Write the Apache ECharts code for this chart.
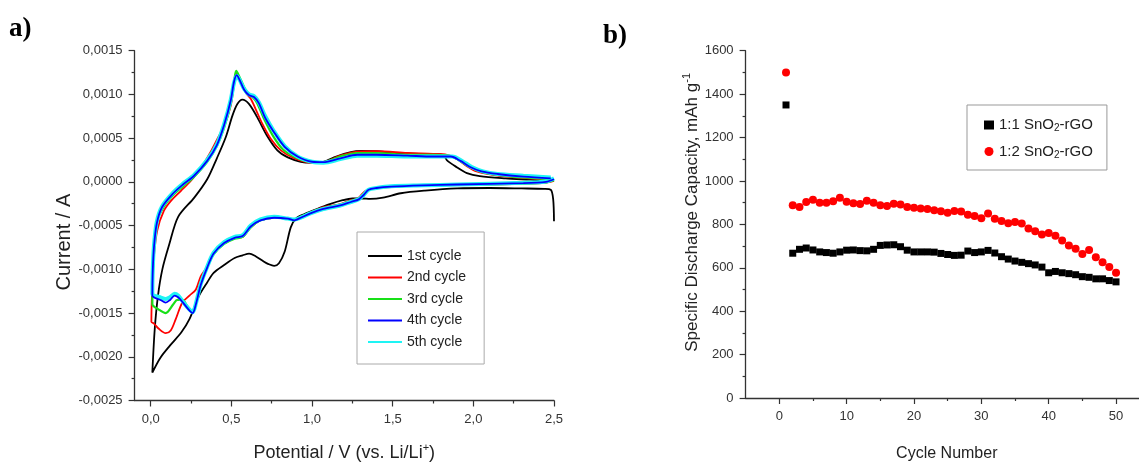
<!DOCTYPE html>
<html><head><meta charset="utf-8">
<script src="https://cdn.jsdelivr.net/npm/echarts@6/dist/echarts.min.js"></script>
<style>html,body{margin:0;padding:0;background:#fff}#c{width:1139px;height:467px}</style>
</head><body><div id="c"></div>
<script>
// ---------- Panel a: cyclic voltammetry (Potential V, Current A) ----------
const cvNames = ['1st cycle', '2nd cycle', '3rd cycle', '4th cycle', '5th cycle'];
const cvColors = ['#000000', '#ff0000', '#18e018', '#0000ff', '#1ef4f4'];

const cycle1 = [
  [2.50, -0.00045], [2.495, -0.00020], [2.48, -0.00009], [2.44, -0.00008], [2.30, -0.000075], [2.10, -0.00007],
  [1.90, -0.000075], [1.70, -0.00010], [1.55, -0.00013], [1.44, -0.00018], [1.36, -0.000195], [1.31, -0.00019],
  [1.25, -0.00019], [1.19, -0.00021], [1.11, -0.000255], [1.03, -0.00031], [0.95, -0.00037], [0.90, -0.00042],
  [0.868, -0.00052], [0.83, -0.00080], [0.795, -0.00093], [0.765, -0.00096], [0.73, -0.00094], [0.70, -0.00091],
  [0.65, -0.00085], [0.61, -0.00082], [0.57, -0.00084], [0.52, -0.00087], [0.455, -0.00095], [0.39, -0.00104],
  [0.35, -0.00115], [0.30, -0.00130], [0.24, -0.00157], [0.19, -0.00172], [0.12, -0.00187], [0.06, -0.00201],
  [0.01, -0.00218],
  [0.025, -0.00168], [0.045, -0.00130], [0.072, -0.00100], [0.114, -0.00072], [0.17, -0.00040], [0.27, -0.00018],
  [0.35, 0.00003], [0.41, 0.00027], [0.465, 0.00051], [0.507, 0.00076], [0.537, 0.00089], [0.568, 0.00094],
  [0.61, 0.00089], [0.66, 0.00074], [0.72, 0.00053], [0.785, 0.00036], [0.85, 0.00028], [0.93, 0.00023],
  [1.00, 0.00022], [1.07, 0.00023], [1.15, 0.00029], [1.24, 0.00034], [1.30, 0.000355], [1.40, 0.00035],
  [1.52, 0.00033], [1.69, 0.00032], [1.81, 0.00031], [1.84, 0.00024], [1.90, 0.000165], [1.96, 0.00010],
  [2.04, 0.000065], [2.20, 0.00004], [2.35, 0.000025], [2.49, 0.00001]
];
const cycle2 = [
  [2.50, 0.00001], [2.45, -0.00001], [2.31, -0.000022], [1.90, -0.000037], [1.69, -0.00004], [1.49, -0.00006],
  [1.38, -0.000075], [1.33, -0.000105], [1.30, -0.00016], [1.28, -0.000195], [1.236, -0.00021], [1.175, -0.000255],
  [1.07, -0.00029], [0.99, -0.00035], [0.93, -0.00040], [0.89, -0.00044], [0.85, -0.00042], [0.765, -0.00041],
  [0.68, -0.00044], [0.62, -0.00052], [0.57, -0.00063], [0.52, -0.00064], [0.455, -0.00070], [0.39, -0.00082],
  [0.35, -0.00097], [0.31, -0.00108], [0.28, -0.00123], [0.24, -0.00130], [0.196, -0.00138], [0.155, -0.00157],
  [0.124, -0.00170], [0.093, -0.00173], [0.05, -0.00168], [0.02, -0.00162], [0.004, -0.00160],
  [0.009, -0.00123], [0.02, -0.00085], [0.041, -0.00055], [0.082, -0.00033], [0.124, -0.00022], [0.186, -0.000105],
  [0.248, 0.00001], [0.31, 0.000157], [0.372, 0.000345], [0.413, 0.00049], [0.455, 0.00064], [0.496, 0.00087],
  [0.517, 0.00111], [0.533, 0.00124], [0.554, 0.00117], [0.589, 0.00102], [0.62, 0.00095], [0.651, 0.00083],
  [0.693, 0.00066], [0.745, 0.00049], [0.807, 0.00036], [0.889, 0.00027], [0.99, 0.00022], [1.07, 0.000225],
  [1.175, 0.00030], [1.28, 0.000345], [1.40, 0.00035], [1.59, 0.00033], [1.75, 0.00032], [1.836, 0.00031],
  [1.90, 0.00026], [1.96, 0.00018], [2.02, 0.00012], [2.15, 0.000071], [2.31, 0.000045], [2.48, 0.000018]
];
const cycle3 = [
  [2.50, 0.00002], [2.45, -0.000005], [2.31, -0.00002], [1.90, -0.000035], [1.69, -0.00004], [1.49, -0.000055],
  [1.40, -0.00007], [1.35, -0.00009], [1.32, -0.00014], [1.29, -0.00019], [1.24, -0.00022], [1.175, -0.00026],
  [1.07, -0.00030], [0.99, -0.00035], [0.93, -0.00040], [0.89, -0.00044], [0.85, -0.00042], [0.765, -0.00041],
  [0.68, -0.00044], [0.62, -0.00052], [0.57, -0.00063], [0.52, -0.00065], [0.455, -0.00071], [0.39, -0.00083],
  [0.35, -0.00098], [0.31, -0.00116], [0.28, -0.00138], [0.258, -0.00149], [0.23, -0.00143], [0.196, -0.00135],
  [0.165, -0.00135], [0.14, -0.00140], [0.093, -0.00150], [0.05, -0.00146], [0.01, -0.00140],
  [0.013, -0.00110], [0.02, -0.00075], [0.04, -0.00045], [0.082, -0.00028], [0.145, -0.00014], [0.20, -0.00005],
  [0.269, 0.00006], [0.35, 0.00023], [0.41, 0.00041], [0.455, 0.00062], [0.496, 0.00090], [0.517, 0.00115],
  [0.53, 0.00127], [0.55, 0.00120], [0.58, 0.00108], [0.61, 0.00099], [0.63, 0.00097], [0.66, 0.00090],
  [0.70, 0.00073], [0.76, 0.00052], [0.82, 0.00037], [0.90, 0.00028], [0.99, 0.00023], [1.07, 0.000225],
  [1.175, 0.00029], [1.28, 0.00033], [1.40, 0.00033], [1.59, 0.00031], [1.75, 0.00031], [1.85, 0.00030],
  [1.91, 0.00025], [1.97, 0.00018], [2.04, 0.00012], [2.15, 0.00008], [2.31, 0.00005], [2.48, 0.00003]
];
const cycle4 = [
  [2.50, 0.00003], [2.45, 0.0], [2.31, -0.000015], [1.90, -0.00003], [1.69, -0.00004], [1.49, -0.000055],
  [1.40, -0.00007], [1.35, -0.00009], [1.32, -0.00015], [1.29, -0.00020], [1.24, -0.00023], [1.175, -0.00027],
  [1.07, -0.00031], [0.99, -0.00036], [0.93, -0.00041], [0.89, -0.00044], [0.85, -0.00042], [0.765, -0.00041],
  [0.68, -0.00044], [0.62, -0.00051], [0.57, -0.00062], [0.52, -0.00064], [0.455, -0.00070], [0.39, -0.00082],
  [0.35, -0.00098], [0.31, -0.00118], [0.28, -0.00140], [0.26, -0.00150], [0.235, -0.00146], [0.20, -0.00138],
  [0.17, -0.00132], [0.148, -0.00130], [0.12, -0.00135], [0.093, -0.00138], [0.06, -0.00135], [0.01, -0.00130],
  [0.012, -0.00105], [0.02, -0.00075], [0.037, -0.00048], [0.07, -0.00029], [0.14, -0.00013], [0.20, -0.00003],
  [0.269, 0.00007], [0.35, 0.00024], [0.41, 0.00042], [0.455, 0.00065], [0.496, 0.00093], [0.517, 0.00115],
  [0.533, 0.00122], [0.55, 0.00117], [0.58, 0.00105], [0.61, 0.00099], [0.64, 0.00097], [0.67, 0.00090],
  [0.71, 0.00073], [0.76, 0.00058], [0.83, 0.00040], [0.91, 0.00029], [1.00, 0.00023], [1.07, 0.000225],
  [1.175, 0.00027], [1.28, 0.00031], [1.40, 0.00031], [1.59, 0.00030], [1.75, 0.00029], [1.86, 0.00029],
  [1.92, 0.00024], [1.98, 0.00017], [2.05, 0.00012], [2.15, 0.00009], [2.31, 0.00006], [2.48, 0.00004]
];
const cycle5 = [
  [2.50, 0.00004], [2.45, 0.000005], [2.31, -0.00001], [1.90, -0.00003], [1.69, -0.00004], [1.49, -0.00005],
  [1.40, -0.00007], [1.35, -0.00009], [1.32, -0.00015], [1.29, -0.00020], [1.24, -0.00023], [1.175, -0.00027],
  [1.07, -0.00031], [0.99, -0.00036], [0.93, -0.00041], [0.89, -0.00043], [0.85, -0.00042], [0.765, -0.00040],
  [0.68, -0.00043], [0.62, -0.00050], [0.57, -0.00061], [0.52, -0.00063], [0.455, -0.00069], [0.39, -0.00081],
  [0.35, -0.00097], [0.31, -0.00117], [0.28, -0.00139], [0.26, -0.00149], [0.235, -0.00145], [0.20, -0.00137],
  [0.17, -0.00130], [0.148, -0.00128], [0.12, -0.00132], [0.093, -0.00134], [0.06, -0.00132], [0.01, -0.00128],
  [0.012, -0.00103], [0.02, -0.00073], [0.037, -0.00046], [0.07, -0.00028], [0.14, -0.00012], [0.20, -0.00002],
  [0.269, 0.00008], [0.35, 0.00025], [0.41, 0.00043], [0.455, 0.00066], [0.496, 0.00094], [0.517, 0.00114],
  [0.533, 0.00121], [0.55, 0.00117], [0.58, 0.00106], [0.61, 0.00100], [0.64, 0.00098], [0.67, 0.00091],
  [0.71, 0.00075], [0.76, 0.00059], [0.83, 0.00041], [0.91, 0.00029], [1.00, 0.00023], [1.07, 0.00022],
  [1.175, 0.00026], [1.28, 0.00030], [1.40, 0.00030], [1.59, 0.00029], [1.75, 0.00029], [1.87, 0.00029],
  [1.93, 0.00024], [1.99, 0.00017], [2.06, 0.00012], [2.15, 0.00009], [2.31, 0.00007], [2.48, 0.00005]
];
const potentialLabelTicks = [0, 0.5, 1, 1.5, 2, 2.5];
const potentialMinorTicks = [0.25, 0.75, 1.25, 1.75, 2.25];

// ---------- Panel b: discharge capacity vs cycle ----------
const capNames = ['1:1 SnO2-rGO', '1:2 SnO2-rGO'];
const cycleNumbers = [1,2,3,4,5,6,7,8,9,10,11,12,13,14,15,16,17,18,19,20,21,22,23,24,25,
  26,27,28,29,30,31,32,33,34,35,36,37,38,39,40,41,42,43,44,45,46,47,48,49,50];
const capacity11 = [1350, 667, 685, 691, 682, 673, 670, 667, 673, 681, 682, 679, 678, 685, 703, 705, 706, 697, 681,
  673, 673, 673, 672, 666, 661, 657, 658, 677, 670, 673, 680, 668, 651, 640, 631, 625, 619, 613, 603, 577, 583, 577,
  573, 568, 559, 556, 549, 549, 541, 535];
const capacity12 = [1500, 888, 880, 903, 913, 900, 900, 906, 922, 904, 897, 894, 909, 900, 888, 885, 895, 892, 880,
  877, 873, 871, 865, 860, 853, 862, 859, 844, 838, 828, 850, 826, 816, 805, 811, 804, 781, 768, 753, 760, 747, 726,
  702, 688, 663, 682, 649, 625, 603, 577];
const cycleLabelTicks = [0, 10, 20, 30, 40, 50];
const cycleMinorTicks = [5, 15, 25, 35, 45];

const FONT = 'Liberation Sans, Arial, sans-serif';
const AX = '#333';
const GA = {left: 134.6, top: 50.7, width: 419.4, height: 356};
const GB = {left: 745.6, top: 50.7, width: 393.4, height: 356};
const cycleMax = -5 + GB.width / 6.735;

function commaFix(d) { return v => v.toFixed(d).replace('.', ','); }
const lineAxis = {onZero: false, lineStyle: {color: AX, width: 1.3}};
const tickMajor = {length: 6, lineStyle: {color: AX, width: 1.2}};
const lblStyle = {color: '#333', fontSize: 13, fontFamily: FONT};
const supRich = {sup: {fontSize: 11, fontFamily: FONT, color: '#222', padding: [0, 0, 10, 0]}};

const cvSeries = [cycle1, cycle2, cycle3, cycle4, cycle5].map((d, i) => ({
  name: cvNames[i], type: 'line', xAxisIndex: 0, yAxisIndex: 0, data: d,
  symbol: 'none', showSymbol: false, smooth: 0.3,
  lineStyle: {color: cvColors[i], width: [1.8, 1.8, 2.2, 1.8, 4][i]},
  itemStyle: {color: cvColors[i]},
  z: [5, 6, 7, 9, 8][i]
}));

const option = {
  animation: false,
  backgroundColor: '#fff',
  title: [
    {text: 'a)', left: 9, top: 16, padding: 0, textStyle: {fontFamily: 'Liberation Serif, Times New Roman, serif', fontWeight: 'bold', fontSize: 27, color: '#000'}},
    {text: 'b)', left: 603, top: 23, padding: 0, textStyle: {fontFamily: 'Liberation Serif, Times New Roman, serif', fontWeight: 'bold', fontSize: 27, color: '#000'}}
  ],
  grid: [
    Object.assign({containLabel: false}, GA),
    Object.assign({containLabel: false}, GB)
  ],
  legend: [
    {
      data: cvNames.map((n, i) => ({name: n, icon: 'rect', itemStyle: {color: cvColors[i]}})),
      orient: 'vertical', left: 357, top: 232,
      itemWidth: 34, itemHeight: 2, itemGap: 7.5,
      padding: [17, 18, 15, 11], borderColor: '#aaa', borderWidth: 1,
      textStyle: {fontSize: 14, fontFamily: FONT, color: '#222', lineHeight: 14}
    },
    {
      data: capNames.map((n, i) => ({name: n, icon: i === 0 ? 'rect' : 'circle'})),
      orient: 'vertical', left: 967, top: 105,
      itemWidth: 10, itemHeight: 9, itemGap: 10,
      padding: [12, 14, 10, 17], borderColor: '#999', borderWidth: 1,
      formatter: n => n.replace('SnO2', 'SnO{sub|2}'),
      textStyle: {fontSize: 15, fontFamily: FONT, color: '#222', lineHeight: 16,
        rich: {sub: {fontSize: 10, fontFamily: FONT, color: '#222', padding: [7, 0, 0, 0]}}}
    }
  ],
  xAxis: [
    {
      gridIndex: 0, type: 'value', min: -0.1, max: 2.5,
      axisLine: lineAxis, splitLine: {show: false},
      axisTick: Object.assign({customValues: potentialLabelTicks}, tickMajor),
      axisLabel: Object.assign({customValues: potentialLabelTicks, formatter: commaFix(1), margin: 12}, lblStyle),
      name: 'Potential / V (vs. Li/Li{sup|+})', nameLocation: 'middle', nameGap: 42,
      nameTextStyle: {color: '#222', fontSize: 18, fontFamily: FONT, rich: supRich}
    },
    {
      gridIndex: 1, type: 'value', min: -5, max: cycleMax,
      axisLine: lineAxis, splitLine: {show: false},
      axisTick: Object.assign({customValues: cycleLabelTicks}, tickMajor),
      axisLabel: Object.assign({customValues: cycleLabelTicks, margin: 12}, lblStyle),
      name: 'Cycle Number', nameLocation: 'middle', nameGap: 48,
      nameTextStyle: {color: '#222', fontSize: 16, fontFamily: FONT, padding: [0, 0, 0, 9]}
    },
    {
      gridIndex: 0, type: 'value', min: -0.1, max: 2.5, position: 'bottom',
      axisLine: {show: false, onZero: false}, splitLine: {show: false},
      axisTick: {customValues: potentialMinorTicks, length: 3, lineStyle: {color: AX, width: 1.2}},
      axisLabel: {show: false}
    },
    {
      gridIndex: 1, type: 'value', min: -5, max: cycleMax, position: 'bottom',
      axisLine: {show: false, onZero: false}, splitLine: {show: false},
      axisTick: {customValues: cycleMinorTicks, length: 3, lineStyle: {color: AX, width: 1.2}},
      axisLabel: {show: false}
    }
  ],
  yAxis: [
    {
      gridIndex: 0, type: 'value', min: -0.0025, max: 0.0015, interval: 0.0005,
      axisLine: Object.assign({show: true}, lineAxis), splitLine: {show: false},
      axisTick: Object.assign({show: true}, tickMajor),
      minorTick: {show: true, splitNumber: 2, length: 3, lineStyle: {color: AX, width: 1.2}},
      axisLabel: Object.assign({formatter: commaFix(4), margin: 12}, lblStyle),
      name: 'Current / A', nameLocation: 'middle', nameGap: 56,
      nameTextStyle: {color: '#222', fontSize: 20, fontFamily: FONT, padding: [0, 33, 0, 0]}
    },
    {
      gridIndex: 1, type: 'value', min: 0, max: 1600, interval: 200,
      axisLine: Object.assign({show: true}, lineAxis), splitLine: {show: false},
      axisTick: Object.assign({show: true}, tickMajor),
      minorTick: {show: true, splitNumber: 2, length: 3, lineStyle: {color: AX, width: 1.2}},
      axisLabel: Object.assign({margin: 12, formatter: v => String(v)}, lblStyle),
      name: 'Specific Discharge Capacity, mAh g{sup|-1}', nameLocation: 'middle', nameGap: 39,
      nameTextStyle: {color: '#222', fontSize: 17, fontFamily: FONT, padding: [0, 0, 0, 24], rich: supRich}
    }
  ],
  series: cvSeries.concat([
    {
      name: capNames[0], type: 'scatter', xAxisIndex: 1, yAxisIndex: 1,
      data: cycleNumbers.map((c, i) => [c, capacity11[i]]),
      symbol: 'rect', symbolSize: 7, itemStyle: {color: '#000', opacity: 1}, z: 4
    },
    {
      name: capNames[1], type: 'scatter', xAxisIndex: 1, yAxisIndex: 1,
      data: cycleNumbers.map((c, i) => [c, capacity12[i]]),
      symbol: 'circle', symbolSize: 8, itemStyle: {color: '#ff0000', opacity: 1}, z: 3
    }
  ])
};
const chart = echarts.init(document.getElementById('c'), null, {renderer: 'canvas'});
chart.setOption(option);
</script>
</body></html>
